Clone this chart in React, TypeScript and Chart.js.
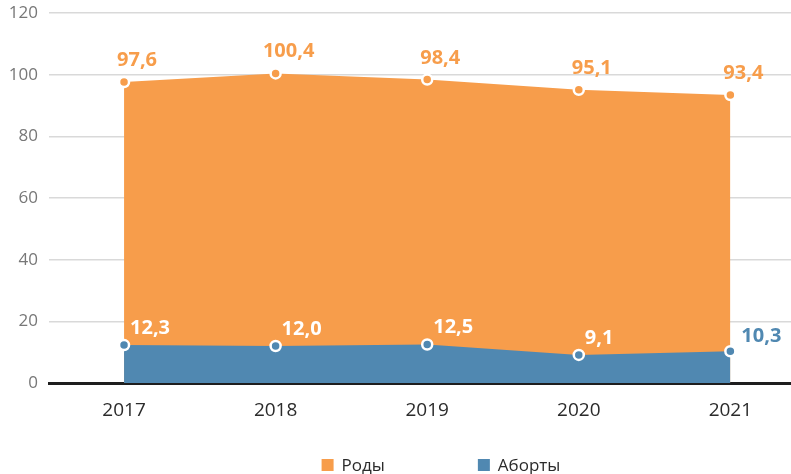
import React, { useEffect, useRef } from "react";
import { Chart, registerables } from "chart.js";

Chart.register(...registerables);

const years = [2017, 2018, 2019, 2020, 2021];
const births = [97.6, 100.4, 98.4, 95.1, 93.4];
const abortions = [12.3, 12.0, 12.5, 9.1, 10.3];
const seriesNames = ["Роды", "Аборты"];
const yTicks = [0, 20, 40, 60, 80, 100, 120];

const ORANGE = "#F79D4B";
const BLUE = "#5088B1";
const FONT = "'Open Sans', 'Noto Sans', sans-serif";

const fmt = (v: number) => v.toFixed(1).replace(".", ",");

const labelPlugin = {
  id: "valueLabels",
  afterDraw(chart: any) {
    const ctx = chart.ctx;
    ctx.save();
    ctx.font = `bold 20px ${FONT}`;
    ctx.textBaseline = "alphabetic";
    const m0 = chart.getDatasetMeta(0);
    m0.data.forEach((pt: any, i: number) => {
      ctx.fillStyle = ORANGE;
      ctx.textAlign = "center";
      ctx.fillText(fmt(births[i]), pt.x + 13, pt.y - 16);
    });
    const m1 = chart.getDatasetMeta(1);
    m1.data.forEach((pt: any, i: number) => {
      const last = i === abortions.length - 1;
      ctx.fillStyle = last ? BLUE : "#ffffff";
      ctx.textAlign = "left";
      ctx.fillText(fmt(abortions[i]), pt.x + (last ? 11 : 6), pt.y - (last ? 9 : 11));
    });
    ctx.restore();
  },
};

const legendPlugin = {
  id: "customLegend",
  afterDraw(chart: any) {
    const ctx = chart.ctx;
    ctx.save();
    ctx.font = `17px ${FONT}`;
    ctx.textBaseline = "middle";
    ctx.textAlign = "left";
    const box = 12;
    const gap = 8;
    const itemGap = 93;
    const ds = chart.data.datasets;
    const widths = ds.map((d: any) => box + gap + ctx.measureText(d.label).width);
    const total = widths.reduce((a: number, b: number) => a + b, 0) + itemGap * (ds.length - 1);
    let x = 441 - total / 2;
    const y = 465;
    ds.forEach((d: any, i: number) => {
      ctx.fillStyle = d.backgroundColor;
      ctx.fillRect(x, y - box / 2, box, box);
      ctx.fillStyle = "#2b2b2b";
      ctx.fillText(d.label, x + box + gap, y + 1);
      x += widths[i] + itemGap;
    });
    ctx.restore();
  },
};

export default function App() {
  const ref = useRef<HTMLCanvasElement>(null);
  useEffect(() => {
    if (!ref.current) return;
    const chart = new Chart(ref.current, {
      type: "line",
      data: {
        datasets: [
          {
            label: seriesNames[0],
            data: years.map((y, i) => ({ x: y, y: births[i] })),
            backgroundColor: ORANGE,
            borderColor: ORANGE,
            borderWidth: 0,
            fill: "origin",
            tension: 0,
            pointRadius: 5,
            pointBorderWidth: 2.5,
            pointBackgroundColor: ORANGE,
            pointBorderColor: "#ffffff",
            order: 1,
          },
          {
            label: seriesNames[1],
            data: years.map((y, i) => ({ x: y, y: abortions[i] })),
            backgroundColor: BLUE,
            borderColor: BLUE,
            borderWidth: 0,
            fill: "origin",
            tension: 0,
            pointRadius: 5,
            pointBorderWidth: 2.5,
            pointBackgroundColor: BLUE,
            pointBorderColor: "#ffffff",
            order: 0,
          },
        ],
      },
      options: {
        responsive: false,
        animation: false,
        layout: { autoPadding: false, padding: { top: 13, right: 0, bottom: 55, left: 0 } },
        plugins: {
          legend: { display: false },
          tooltip: { enabled: false },
        },
        scales: {
          x: {
            type: "linear",
            min: 2016.505,
            max: 2021.4,
            z: 1,
            afterBuildTicks: (scale: any) => {
              scale.ticks = years.map((v) => ({ value: v }));
            },
            afterFit: (scale: any) => {
              scale.height = 36;
              scale.paddingLeft = 0;
              scale.paddingRight = 0;
            },
            grid: { display: false, drawTicks: false },
            border: { display: true, color: "#1e1e1e", width: 3 },
            ticks: {
              padding: 16,
              color: "#2b2b2b",
              font: { family: FONT, size: 19 },
              callback: (v: any) => String(v),
            },
          },
          y: {
            min: 0,
            max: 120,
            afterBuildTicks: (scale: any) => {
              scale.ticks = yTicks.map((v) => ({ value: v }));
            },
            afterFit: (scale: any) => {
              scale.width = 49;
              scale.paddingTop = 0;
              scale.paddingBottom = 0;
            },
            grid: { color: "#d9d9d9", lineWidth: 1.5, drawTicks: false },
            border: { display: false },
            ticks: {
              padding: 11,
              color: "#777777",
              font: { family: FONT, size: 17 },
            },
          },
        },
      },
      plugins: [labelPlugin, legendPlugin],
    });
    return () => chart.destroy();
  }, []);
  return (
    <div style={{ position: "fixed", left: 0, top: 0, width: 791, height: 474, background: "#fff" }}>
      <canvas ref={ref} width={791} height={474} />
    </div>
  );
}
